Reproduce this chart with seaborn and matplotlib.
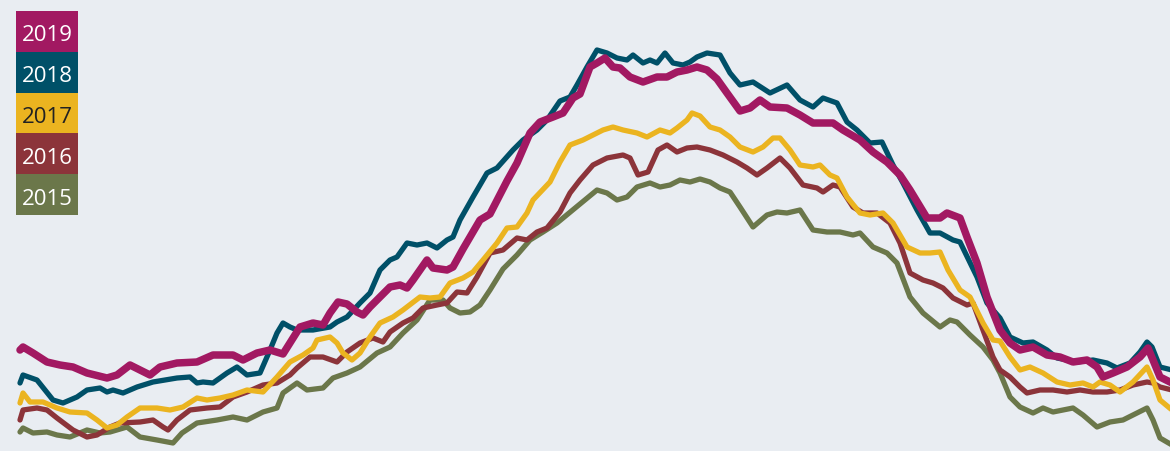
"""
Five overlapping yearly curves, 2015-2019, with a stacked colour-box legend.
"""
import matplotlib
matplotlib.use("Agg")

import pandas as pd
import matplotlib.pyplot as plt
from matplotlib.patches import Rectangle
import seaborn as sns

YEARS = ["2019", "2018", "2017", "2016", "2015"]
COLORS = {"2019": "#a21962", "2018": "#005068", "2017": "#ebb420",
          "2016": "#8c343a", "2015": "#6b774a"}
TEXT_COLORS = {"2019": "white", "2018": "white", "2017": "#222222",
               "2016": "white", "2015": "white"}
WIDTHS = {"2019": 5.4, "2018": 3.8, "2017": 3.8, "2016": 3.8, "2015": 3.8}
BG = "#e9edf2"

# (position along the season, level read as a row on the picture; smaller = higher)
SERIES_2019 = [(20, 350), (23, 347), (33, 353), (47, 362), (60, 365), (73, 367), (87, 373), (107, 378),
               (117, 375), (130, 365), (140, 370), (150, 375), (160, 367), (177, 363), (197, 362), (213, 355),
               (233, 355), (243, 360), (257, 353), (270, 350), (283, 354), (300, 327), (313, 323), (323, 325),
               (330, 313), (338, 302), (347, 304), (357, 312), (363, 315), (370, 307), (380, 297), (390, 287),
               (400, 285), (407, 288), (413, 280), (427, 260), (433, 268), (447, 270), (453, 267), (463, 249),
               (480, 220), (490, 214), (507, 181), (517, 163), (530, 133), (540, 122), (553, 117), (563, 113),
               (573, 98), (580, 94), (590, 67), (597, 63), (605, 58), (613, 67), (620, 68), (630, 77),
               (643, 82), (657, 77), (667, 77), (677, 72), (687, 70), (697, 67), (707, 70), (717, 79),
               (727, 93), (740, 111), (750, 108), (760, 100), (770, 107), (787, 108), (800, 115), (813, 123),
               (833, 123), (843, 130), (860, 140), (873, 152), (887, 162), (900, 175), (910, 190), (927, 218),
               (940, 218), (947, 213), (960, 218), (967, 237), (977, 263), (987, 297), (1000, 330), (1010, 343),
               (1020, 350), (1033, 347), (1047, 355), (1060, 357), (1073, 362), (1087, 360), (1097, 367),
               (1103, 377), (1113, 373), (1127, 367), (1140, 357), (1148, 348), (1153, 360), (1160, 377),
               (1172, 383)]

SERIES_2018 = [(20, 383), (23, 375), (37, 380), (53, 400), (63, 403), (77, 397), (87, 390), (100, 388),
               (107, 392), (113, 390), (123, 393), (137, 387), (153, 382), (177, 378), (190, 377), (197, 383),
               (203, 382), (213, 383), (227, 373), (237, 367), (247, 375), (260, 373), (270, 350), (277, 333),
               (283, 323), (290, 327), (297, 330), (313, 330), (330, 327), (337, 322), (347, 317), (360, 303),
               (370, 293), (380, 270), (390, 260), (397, 257), (407, 243), (417, 245), (427, 243), (437, 248),
               (447, 240), (453, 237), (460, 220), (473, 197), (487, 173), (497, 168), (513, 150), (523, 140),
               (537, 130), (547, 120), (560, 101), (570, 97), (577, 85), (587, 67), (597, 50), (607, 53),
               (617, 58), (627, 60), (633, 55), (643, 63), (650, 60), (657, 63), (665, 53), (673, 63),
               (683, 65), (690, 62), (697, 57), (707, 53), (720, 55), (730, 73), (740, 85), (753, 82),
               (770, 93), (787, 85), (800, 100), (813, 107), (823, 98), (837, 103), (847, 122), (857, 130),
               (870, 143), (882, 142), (893, 165), (903, 183), (917, 210), (930, 233), (940, 233), (953, 240),
               (960, 242), (977, 277), (987, 303), (1000, 318), (1010, 337), (1023, 343), (1033, 342),
               (1047, 350), (1057, 358), (1077, 362), (1093, 360), (1107, 363), (1117, 368), (1130, 363),
               (1140, 352), (1147, 342), (1152, 347), (1160, 367), (1172, 370)]

SERIES_2017 = [(20, 403), (23, 393), (30, 402), (43, 402), (57, 408), (70, 412), (87, 413), (97, 420),
               (107, 428), (117, 425), (127, 417), (140, 408), (157, 408), (170, 410), (183, 407), (197, 398),
               (207, 400), (220, 398), (233, 395), (247, 390), (263, 392), (277, 377), (290, 362), (303, 355),
               (313, 348), (317, 340), (330, 337), (337, 343), (343, 353), (352, 360), (360, 353), (370, 337),
               (380, 323), (393, 317), (403, 310), (420, 297), (430, 298), (440, 297), (450, 283), (463, 278),
               (473, 272), (483, 260), (497, 243), (507, 228), (517, 227), (527, 213), (533, 200), (550, 182),
               (560, 162), (570, 145), (583, 140), (593, 135), (603, 130), (613, 127), (623, 130), (637, 133),
               (647, 137), (660, 130), (670, 133), (677, 128), (687, 120), (692, 113), (700, 116), (710, 127),
               (720, 130), (730, 137), (740, 147), (753, 152), (763, 147), (773, 138), (780, 138), (790, 150),
               (800, 165), (813, 167), (820, 165), (830, 175), (837, 178), (847, 197), (860, 213), (870, 215),
               (883, 213), (893, 223), (907, 247), (920, 253), (930, 253), (940, 252), (948, 270), (960, 290),
               (970, 297), (983, 323), (993, 340), (1000, 341), (1010, 357), (1020, 370), (1030, 367),
               (1043, 373), (1057, 382), (1070, 385), (1083, 383), (1093, 387), (1100, 382), (1110, 385),
               (1120, 392), (1133, 382), (1147, 367), (1153, 380), (1160, 400), (1172, 410)]

SERIES_2016 = [(20, 420), (23, 410), (37, 408), (47, 410), (57, 418), (73, 430), (87, 437), (97, 435),
               (110, 427), (120, 423), (140, 422), (153, 420), (163, 427), (168, 430), (177, 420), (190, 410),
               (207, 408), (220, 407), (233, 397), (247, 392), (263, 385), (277, 383), (290, 375), (297, 368),
               (310, 357), (323, 357), (337, 362), (347, 352), (360, 343), (373, 338), (383, 342), (390, 332),
               (403, 323), (413, 318), (423, 308), (437, 305), (447, 303), (457, 292), (467, 293), (477, 277),
               (490, 253), (503, 250), (517, 238), (527, 240), (537, 232), (547, 228), (560, 212), (570, 193),
               (580, 180), (593, 165), (607, 158), (623, 155), (630, 158), (638, 175), (648, 172), (658, 150),
               (667, 145), (677, 152), (687, 148), (697, 147), (710, 150), (723, 155), (737, 162), (747, 168),
               (757, 175), (767, 168), (780, 158), (790, 168), (803, 185), (817, 188), (823, 192), (833, 185),
               (840, 187), (853, 207), (863, 213), (877, 213), (890, 223), (900, 243), (910, 273), (923, 280),
               (933, 283), (943, 288), (953, 298), (967, 305), (973, 303), (983, 330), (993, 357), (1000, 370),
               (1010, 377), (1020, 387), (1027, 393), (1040, 390), (1053, 390), (1067, 392), (1080, 390),
               (1093, 392), (1107, 392), (1120, 390), (1133, 385), (1147, 382), (1153, 383), (1160, 387),
               (1172, 390)]

SERIES_2015 = [(20, 432), (23, 428), (33, 433), (47, 432), (57, 435), (70, 437), (87, 430), (100, 433),
               (110, 432), (127, 427), (140, 437), (157, 440), (173, 443), (182, 433), (197, 423), (217, 420),
               (233, 417), (247, 420), (263, 412), (277, 408), (283, 393), (297, 383), (307, 390), (323, 388),
               (333, 378), (347, 373), (360, 367), (377, 353), (390, 347), (403, 333), (417, 320), (430, 300),
               (443, 300), (450, 308), (460, 313), (470, 312), (480, 305), (490, 290), (503, 269), (517, 255),
               (530, 240), (543, 232), (557, 223), (580, 204), (597, 190), (607, 193), (617, 200), (627, 197),
               (637, 187), (650, 183), (660, 187), (670, 185), (680, 180), (690, 182), (700, 179), (710, 182),
               (720, 188), (730, 192), (740, 207), (753, 227), (767, 215), (777, 212), (787, 213), (800, 210),
               (813, 230), (827, 232), (840, 232), (853, 235), (860, 233), (873, 247), (887, 253), (897, 263),
               (910, 297), (923, 313), (940, 327), (950, 320), (957, 322), (970, 335), (983, 347), (993, 360),
               (1000, 373), (1010, 397), (1020, 407), (1033, 413), (1043, 408), (1053, 412), (1073, 408),
               (1083, 415), (1097, 427), (1110, 422), (1123, 420), (1137, 413), (1147, 408), (1153, 420),
               (1160, 438), (1172, 445)]

SERIES = {"2019": SERIES_2019, "2018": SERIES_2018, "2017": SERIES_2017,
          "2016": SERIES_2016, "2015": SERIES_2015}


def build_frame():
    rows = []
    for year, pts in SERIES.items():
        for pos, level in pts:
            rows.append({"year": year, "pos": pos, "level": level})
    return pd.DataFrame(rows)


def main():
    df = build_frame()

    sns.set_theme(style="white")
    fig = plt.figure(figsize=(11.7, 4.51), dpi=100, facecolor=BG)
    ax = fig.add_axes([0, 0, 1, 1])
    ax.set_facecolor(BG)

    # oldest first so 2019 ends up on top
    for i, year in enumerate(reversed(YEARS)):
        sub = df[df["year"] == year]
        sns.lineplot(data=sub, x="pos", y="level", color=COLORS[year], lw=WIDTHS[year],
                     estimator=None, sort=False, ax=ax, zorder=2 + i,
                     solid_joinstyle="round", solid_capstyle="round")

    ax.set_xlim(0, 1170)
    ax.set_ylim(451, 0)
    ax.set_axis_off()

    # legend: stacked colour boxes, top left
    box_w, box_h = 62 / 1170, 40.8 / 451
    left, top = 16 / 1170, 1 - 11 / 451
    for i, year in enumerate(YEARS):
        y0 = top - (i + 1) * box_h
        fig.add_artist(Rectangle((left, y0), box_w, box_h, transform=fig.transFigure,
                                 facecolor=COLORS[year], edgecolor="none", zorder=10))
        fig.text(left + box_w / 2, y0 + box_h / 2 - 4.5 / 451, year, ha="center", va="center",
                 color=TEXT_COLORS[year], fontsize=16, family=["Open Sans", "DejaVu Sans"],
                 zorder=11)

    fig.savefig("out.png", dpi=100, facecolor=BG)
    plt.close(fig)


if __name__ == "__main__":
    main()
